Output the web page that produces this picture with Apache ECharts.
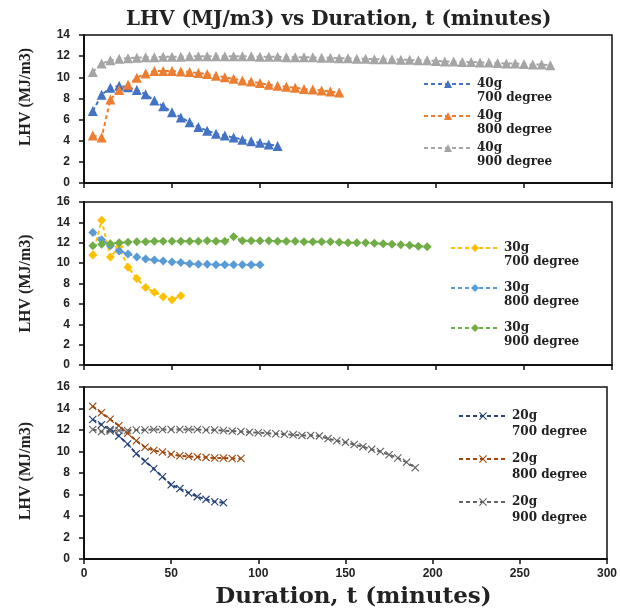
<!DOCTYPE html>
<html><head><meta charset="utf-8">
<script src="https://cdn.jsdelivr.net/npm/echarts@6/dist/echarts.min.js"></script>
<style>html,body{margin:0;padding:0;background:#fff}#c{width:620px;height:610px}</style>
</head><body><div id="c"></div>
<script>
const durations = [5,10,15,20,25,30,35,40,45,50,55,60,65,70,75,80,85,90,95,100,105,110,115,120,125,130,135,140,145,150,155,160,165,170,175,180,185,190,195,200,205,210,215,220,225,230,235,240,245,250,255,260,265];
const xTicks = [0,50,100,150,200,250,300];

// 40 g panel
const lhv40g700 = [6.8,8.35,9.0,9.2,9.05,8.8,8.4,7.8,7.25,6.7,6.2,5.75,5.3,4.95,4.65,4.5,4.3,4.1,3.95,3.8,3.65,3.5];
const lhv40g800 = [4.5,4.3,7.9,8.8,9.3,9.95,10.35,10.6,10.6,10.6,10.55,10.5,10.4,10.3,10.15,10.0,9.85,9.7,9.6,9.45,9.3,9.2,9.1,9.0,8.9,8.85,8.75,8.65,8.55];
const lhv40g900 = [10.5,11.3,11.6,11.75,11.8,11.85,11.9,11.9,11.95,11.95,11.95,12.0,12.0,12.0,12.0,12.0,12.0,12.0,12.0,11.95,11.95,11.95,11.9,11.9,11.9,11.9,11.85,11.85,11.8,11.8,11.75,11.75,11.7,11.7,11.7,11.65,11.65,11.6,11.6,11.55,11.5,11.5,11.45,11.45,11.4,11.4,11.35,11.3,11.3,11.25,11.2,11.2,11.15];

// 30 g panel
const lhv30g700 = [10.8,14.2,10.6,11.6,9.6,8.5,7.6,7.15,6.7,6.4,6.8];
const lhv30g800 = [13.0,12.3,11.7,11.2,10.9,10.6,10.4,10.3,10.2,10.1,10.05,9.95,9.9,9.9,9.85,9.85,9.85,9.85,9.85,9.85];
const lhv30g900 = [11.7,11.85,11.9,12.0,12.05,12.1,12.1,12.15,12.15,12.15,12.15,12.15,12.15,12.2,12.15,12.15,12.6,12.2,12.2,12.2,12.2,12.15,12.15,12.15,12.1,12.1,12.1,12.1,12.05,12.0,12.0,12.0,11.95,11.9,11.85,11.8,11.75,11.65,11.6];

// 20 g panel
const lhv20g700 = [12.97,12.5,12.05,11.45,10.7,9.8,9.1,8.4,7.65,6.9,6.55,6.15,5.8,5.55,5.33,5.24];
const lhv20g800 = [14.2,13.6,13.0,12.4,11.7,11.0,10.4,10.1,9.95,9.75,9.6,9.55,9.5,9.45,9.4,9.4,9.35,9.35];
const lhv20g900 = [12.05,11.85,11.9,11.95,11.95,12.0,12.0,12.05,12.05,12.05,12.05,12.05,12.05,12.0,12.0,11.95,11.9,11.85,11.8,11.75,11.7,11.65,11.6,11.55,11.5,11.5,11.45,11.2,11.0,10.85,10.65,10.45,10.2,10.0,9.7,9.4,9.0,8.5];

const pairs = vals => vals.map((v, i) => [durations[i], v]);
const xMark = 'path://M0,1L1,0L5,4L9,0L10,1L6,5L10,9L9,10L5,6L1,10L0,9L4,5Z';

const grids = [
  {left: 84, right: 8, top: 35, height: 148},
  {left: 84, right: 8, top: 202, height: 163},
  {left: 84, right: 8, top: 387, height: 176}
];
const yMax = [14, 16, 16];
const yNamePad = [[0, 0, 0, 24], [0, 0, 0, 0], [0, 0, 0, 4]];

const tickFont = {fontFamily: 'Liberation Sans', fontWeight: 'bold', fontSize: 12, color: '#222'};
const xAxes = grids.map((g, i) => ({
  type: 'value', gridIndex: i, min: 0, max: 300, interval: 50,
  axisLine: {show: true, onZero: false, lineStyle: {color: '#111', width: 2}},
  axisTick: {show: true, inside: false, length: 5, lineStyle: {color: '#111', width: 1.5}},
  axisLabel: i === 2 ? Object.assign({show: true, margin: 9}, tickFont) : {show: false},
  splitLine: {show: false},
  name: i === 2 ? 'Duration, t (minutes)' : '',
  nameLocation: 'middle', nameGap: 27,
  nameTextStyle: {fontFamily: 'DejaVu Serif', fontWeight: 'bold', fontSize: 23, color: '#222', padding: [0, 0, 0, 16]}
}));
const yAxes = grids.map((g, i) => ({
  type: 'value', gridIndex: i, min: 0, max: yMax[i], interval: 2,
  axisLine: {show: true, onZero: false, lineStyle: {color: '#111', width: 2}},
  axisTick: {show: true, inside: false, length: 5, lineStyle: {color: '#111', width: 1.5}},
  axisLabel: Object.assign({show: true, margin: 14}, tickFont),
  splitLine: {show: false},
  name: 'LHV (MJ/m3)', nameLocation: 'middle', nameGap: 50,
  nameTextStyle: {fontFamily: 'Liberation Serif', fontWeight: 'bold', fontSize: 16, color: '#222', padding: yNamePad[i]}
}));

function mk(name, vals, idx, color, symbol, size) {
  return {
    name: name, type: 'line', xAxisIndex: idx, yAxisIndex: idx,
    data: pairs(vals), symbol: symbol, symbolSize: size, showSymbol: true,
    lineStyle: {type: [4, 3], width: 2, color: color},
    itemStyle: {color: color}, animation: false
  };
}
const series = [
  mk('40g\n700 degree', lhv40g700, 0, '#4472C4', 'triangle', 10),
  mk('40g\n800 degree', lhv40g800, 0, '#ED7D31', 'triangle', 10),
  mk('40g\n900 degree', lhv40g900, 0, '#A5A5A5', 'triangle', 10),
  mk('30g\n700 degree', lhv30g700, 1, '#FFC000', 'diamond', 9),
  mk('30g\n800 degree', lhv30g800, 1, '#5B9BD5', 'diamond', 9),
  mk('30g\n900 degree', lhv30g900, 1, '#70AD47', 'diamond', 9),
  mk('20g\n700 degree', lhv20g700, 2, '#264478', xMark, 8),
  mk('20g\n800 degree', lhv20g800, 2, '#9E480E', xMark, 8),
  mk('20g\n900 degree', lhv20g900, 2, '#636363', xMark, 8)
];

function lg(names, left, top, gap, lh) {
  return {
    data: names, orient: 'vertical', left: left, top: top, itemWidth: 48, itemHeight: 10,
    itemGap: gap, selectedMode: false,
    formatter: n => '\n' + n,
    textStyle: {fontFamily: 'DejaVu Serif', fontWeight: 'bold', fontSize: 12, color: '#222', lineHeight: lh}
  };
}

const chart = echarts.init(document.getElementById('c'), null, {renderer: 'canvas'});
chart.setOption({
  animation: false,
  backgroundColor: '#fff',
  title: {
    text: 'LHV (MJ/m3) vs Duration, t (minutes)', left: 121, top: 5,
    textStyle: {fontFamily: 'DejaVu Serif', fontWeight: 'bold', fontSize: 20, color: '#222'}
  },
  grid: grids.map(g => Object.assign({show: true, borderColor: '#111', borderWidth: 1.5, backgroundColor: 'transparent'}, g)),
  xAxis: xAxes,
  yAxis: yAxes,
  legend: [
    lg(series.slice(0, 3).map(s => s.name), 418, 58, -10, 14),
    lg(series.slice(3, 6).map(s => s.name), 445, 222, -2, 14),
    lg(series.slice(6, 9).map(s => s.name), 453, 387, -5, 16)
  ],
  series: series
});
</script></body></html>
